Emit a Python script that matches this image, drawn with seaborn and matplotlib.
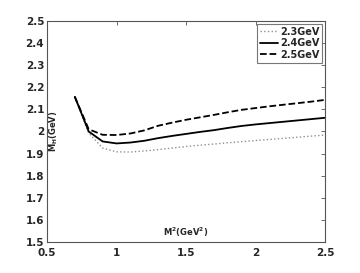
"""
Mass of the hybrid state vs Borel parameter M^2 for three threshold values.
"""

import pandas as pd
import matplotlib.pyplot as plt
import seaborn as sns

sns.set_style("white")
plt.rcParams['font.family'] = ['DejaVu Sans']
plt.rcParams['font.weight'] = 'bold'

# Borel parameter M^2 (GeV^2)
m2 = [0.7, 0.8, 0.9, 1.0, 1.1, 1.2, 1.3, 1.4, 1.5, 1.6, 1.7, 1.8, 1.9,
      2.0, 2.1, 2.2, 2.3, 2.4, 2.5]

# M_H (GeV) for sqrt(s0) = 2.3, 2.4, 2.5 GeV
mh_23 = [2.157, 1.993, 1.925, 1.908, 1.907, 1.912, 1.918, 1.925, 1.932, 1.938,
         1.943, 1.949, 1.954, 1.959, 1.964, 1.969, 1.974, 1.979, 1.984]
mh_24 = [2.157, 2.000, 1.955, 1.946, 1.950, 1.958, 1.970, 1.980, 1.989, 1.998,
         2.006, 2.016, 2.025, 2.032, 2.038, 2.044, 2.050, 2.056, 2.062]
mh_25 = [2.157, 2.010, 1.985, 1.984, 1.991, 2.005, 2.026, 2.040, 2.053, 2.064,
         2.075, 2.087, 2.098, 2.106, 2.114, 2.121, 2.128, 2.135, 2.143]

labels = ['2.3GeV', '2.4GeV', '2.5GeV']

df = pd.DataFrame({
    'M2': m2 * 3,
    'MH': mh_23 + mh_24 + mh_25,
    's0': [labels[0]] * len(m2) + [labels[1]] * len(m2) + [labels[2]] * len(m2),
})

fig = plt.figure(figsize=(3.6, 2.73), dpi=100)
ax = fig.add_axes([0.1306, 0.1136, 0.7722, 0.8095])

styles = {
    '2.3GeV': dict(color='#909090', linestyle=':', linewidth=1.0),
    '2.4GeV': dict(color='black', linestyle='-', linewidth=1.3),
    '2.5GeV': dict(color='black', linestyle='--', linewidth=1.3),
}
for lab in labels:
    sub = df[df['s0'] == lab]
    sns.lineplot(data=sub, x='M2', y='MH', ax=ax, label=lab, **styles[lab])

ax.set_xlim(0.5, 2.5)
ax.set_ylim(1.5, 2.5)
ax.set_xticks([0.5, 1, 1.5, 2, 2.5])
ax.set_xticklabels(['0.5', '1', '1.5', '2', '2.5'])
ax.set_yticks([1.5, 1.6, 1.7, 1.8, 1.9, 2.0, 2.1, 2.2, 2.3, 2.4, 2.5])
ax.set_yticklabels(['1.5', '1.6', '1.7', '1.8', '1.9', '2', '2.1', '2.2',
                    '2.3', '2.4', '2.5'])
ax.tick_params(direction='in', length=3, width=0.6, top=True, right=True,
               labelsize=7.5, color='#555555')
ax.tick_params(axis='x', pad=4.5)
ax.tick_params(axis='y', pad=2)
for lbl in ax.get_xticklabels() + ax.get_yticklabels():
    lbl.set_fontweight('bold')
for sp in ax.spines.values():
    sp.set_linewidth(0.8)
    sp.set_color('#555555')

ax.set_xlabel('')
ax.set_ylabel('')
ax.text(1.5, 1.515, r'$\mathbf{M^2(GeV^2)}$', ha='center', va='bottom', fontsize=6)
ax.text(0.545, 2.0, r'$\mathbf{M_H(GeV)}$', ha='center', va='center', fontsize=6,
        rotation=90)

leg = ax.legend(loc='upper right', fontsize=7, frameon=True, fancybox=False,
                borderpad=0.3, labelspacing=0.15, handlelength=1.8,
                handletextpad=0.2, borderaxespad=0.3)
leg.get_frame().set_edgecolor('#555555')
leg.get_frame().set_linewidth(0.8)
for t in leg.get_texts():
    t.set_fontweight('bold')

plt.savefig('out.png', dpi=100)
plt.close()
